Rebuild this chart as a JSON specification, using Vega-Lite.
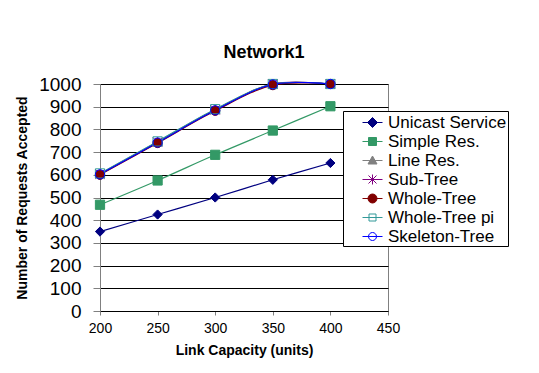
{
  "$schema": "https://vega.github.io/schema/vega-lite/v6.json",
  "autosize": "none",
  "width": 288,
  "height": 227,
  "padding": {"left": 100, "top": 84, "right": 151, "bottom": 62},
  "background": "white",
  "title": {"text": "Network1", "font": "Liberation Sans", "fontSize": 18, "fontWeight": "bold", "color": "#000", "dx": 20, "offset": -1, "baseline": "alphabetic", "frame": "group"},
  "config": {
    "view": {"stroke": "#808080", "strokeWidth": 1},
    "axis": {"labelFont": "Liberation Sans", "titleFont": "Liberation Sans", "labelColor": "#000", "titleColor": "#000"},
    "legend": {"labelFont": "Liberation Sans"}
  },
  "data": {"values": [
    {"capacity": 200, "series": "Unicast Service", "requests": 350},
    {"capacity": 250, "series": "Unicast Service", "requests": 425},
    {"capacity": 300, "series": "Unicast Service", "requests": 500},
    {"capacity": 350, "series": "Unicast Service", "requests": 578},
    {"capacity": 400, "series": "Unicast Service", "requests": 652},
    {"capacity": 200, "series": "Simple Res.", "requests": 468},
    {"capacity": 250, "series": "Simple Res.", "requests": 575},
    {"capacity": 300, "series": "Simple Res.", "requests": 688},
    {"capacity": 350, "series": "Simple Res.", "requests": 795},
    {"capacity": 400, "series": "Simple Res.", "requests": 902},
    {"capacity": 200, "series": "Line Res.", "requests": 605},
    {"capacity": 250, "series": "Line Res.", "requests": 746},
    {"capacity": 300, "series": "Line Res.", "requests": 888},
    {"capacity": 350, "series": "Line Res.", "requests": 1000},
    {"capacity": 400, "series": "Line Res.", "requests": 1000},
    {"capacity": 200, "series": "Sub-Tree", "requests": 603},
    {"capacity": 250, "series": "Sub-Tree", "requests": 744},
    {"capacity": 300, "series": "Sub-Tree", "requests": 886},
    {"capacity": 350, "series": "Sub-Tree", "requests": 1000},
    {"capacity": 400, "series": "Sub-Tree", "requests": 1000},
    {"capacity": 200, "series": "Whole-Tree", "requests": 600},
    {"capacity": 250, "series": "Whole-Tree", "requests": 740},
    {"capacity": 300, "series": "Whole-Tree", "requests": 882},
    {"capacity": 350, "series": "Whole-Tree", "requests": 995},
    {"capacity": 400, "series": "Whole-Tree", "requests": 1000},
    {"capacity": 200, "series": "Whole-Tree pi", "requests": 606},
    {"capacity": 250, "series": "Whole-Tree pi", "requests": 747},
    {"capacity": 300, "series": "Whole-Tree pi", "requests": 889},
    {"capacity": 350, "series": "Whole-Tree pi", "requests": 1000},
    {"capacity": 400, "series": "Whole-Tree pi", "requests": 1000},
    {"capacity": 200, "series": "Skeleton-Tree", "requests": 602},
    {"capacity": 250, "series": "Skeleton-Tree", "requests": 742},
    {"capacity": 300, "series": "Skeleton-Tree", "requests": 884},
    {"capacity": 350, "series": "Skeleton-Tree", "requests": 998},
    {"capacity": 400, "series": "Skeleton-Tree", "requests": 1000}
  ]},
  "encoding": {
    "x": {"field": "capacity", "type": "quantitative", "scale": {"domain": [200, 450], "nice": false, "zero": false},
      "axis": {"values": [200, 250, 300, 350, 400, 450], "format": "d", "title": "Link Capacity (units)", "grid": false, "tickSize": 4, "tickColor": "#808080", "domainColor": "#000", "labelFontSize": 14, "labelPadding": 6, "labelFlush": false, "titleFontSize": 14, "titleFontWeight": "bold", "titlePadding": 8}},
    "y": {"field": "requests", "type": "quantitative", "scale": {"domain": [0, 1000], "nice": false},
      "axis": {"values": [0, 100, 200, 300, 400, 500, 600, 700, 800, 900, 1000], "format": "d", "title": "Number of Requests Accepted", "grid": true, "gridColor": "#000", "gridOpacity": 1, "gridWidth": 1, "domainColor": "#808080", "tickColor": "#808080", "tickSize": 7, "labelFontSize": 19, "labelPadding": 12, "titleFontSize": 14, "titleFontWeight": "bold", "titlePadding": 9}}
  },
  "layer": [
    {
      "mark": {"type": "line", "interpolate": "catmull-rom", "strokeWidth": 1.2},
      "encoding": {
        "color": {"field": "series", "type": "nominal", "legend": null,
          "scale": {"domain": ["Unicast Service", "Simple Res.", "Line Res.", "Sub-Tree", "Whole-Tree", "Whole-Tree pi", "Skeleton-Tree"],
            "range": ["#000080", "#339966", "#808080", "#800080", "#800000", "#339999", "#0000FF"]}}
      }
    },
    {
      "mark": {"type": "point", "filled": true, "size": 85, "strokeWidth": 1, "opacity": 1},
      "encoding": {
        "shape": {"field": "series", "type": "nominal", "legend": null,
          "scale": {"domain": ["Unicast Service", "Simple Res.", "Line Res.", "Sub-Tree", "Whole-Tree", "Whole-Tree pi", "Skeleton-Tree"],
            "range": ["diamond", "square", "triangle-up", "M-1,-1L1,1M-1,1L1,-1M0,-1V1", "circle", "square", "circle"]}},
        "fill": {"field": "series", "type": "nominal", "legend": null,
          "scale": {"domain": ["Unicast Service", "Simple Res.", "Line Res.", "Sub-Tree", "Whole-Tree", "Whole-Tree pi", "Skeleton-Tree"],
            "range": ["#000080", "#339966", "#808080", "transparent", "#800000", "transparent", "transparent"]}},
        "stroke": {"field": "series", "type": "nominal", "legend": null,
          "scale": {"domain": ["Unicast Service", "Simple Res.", "Line Res.", "Sub-Tree", "Whole-Tree", "Whole-Tree pi", "Skeleton-Tree"],
            "range": ["#000080", "#339966", "#808080", "#800080", "#800000", "#339999", "#0000FF"]}}
      }
    },
    {
      "mark": {"type": "point", "filled": true, "size": 400, "strokeWidth": 1, "opacity": 0},
      "encoding": {
        "shape": {"field": "series", "type": "nominal",
          "scale": {"domain": ["Unicast Service", "Simple Res.", "Line Res.", "Sub-Tree", "Whole-Tree", "Whole-Tree pi", "Skeleton-Tree"],
            "range": [
              "M-1,0H1M0,-0.5L0.5,0L0,0.5L-0.5,0Z",
              "M-1,0H1M-0.4,-0.4H0.4V0.4H-0.4Z",
              "M-1,0H1M0,-0.45L0.45,0.35H-0.45Z",
              "M-1,0H1M-0.4,-0.4L0.4,0.4M-0.4,0.4L0.4,-0.4M0,-0.5V0.5",
              "M-1,0H1M0.45,0A0.45,0.45,0,1,1,-0.45,0A0.45,0.45,0,1,1,0.45,0Z",
              "M-1,0H1M-0.35,-0.35H0.35V0.35H-0.35Z",
              "M-1,0H1M0.4,0A0.4,0.4,0,1,1,-0.4,0A0.4,0.4,0,1,1,0.4,0Z"
            ]},
          "legend": {"orient": "none", "legendX": 243, "legendY": 27, "title": null, "strokeColor": "#000", "fillColor": "white", "padding": 1, "symbolOffset": 18, "labelOffset": 5, "labelFontSize": 17, "labelColor": "#000", "rowPadding": 0, "symbolSize": 400, "symbolStrokeWidth": 1, "symbolOpacity": 1, "labelExpr": "datum.label + '   '"}},
        "fill": {"field": "series", "type": "nominal",
          "scale": {"domain": ["Unicast Service", "Simple Res.", "Line Res.", "Sub-Tree", "Whole-Tree", "Whole-Tree pi", "Skeleton-Tree"],
            "range": ["#000080", "#339966", "#808080", "transparent", "#800000", "transparent", "transparent"]},
          "legend": {"orient": "none", "legendX": 243, "legendY": 27, "title": null, "strokeColor": "#000", "fillColor": "white", "padding": 1, "symbolOffset": 18, "labelOffset": 5, "labelFontSize": 17, "labelColor": "#000", "rowPadding": 0, "symbolSize": 400, "symbolStrokeWidth": 1, "symbolOpacity": 1, "labelExpr": "datum.label + '   '"}},
        "stroke": {"field": "series", "type": "nominal",
          "scale": {"domain": ["Unicast Service", "Simple Res.", "Line Res.", "Sub-Tree", "Whole-Tree", "Whole-Tree pi", "Skeleton-Tree"],
            "range": ["#000080", "#339966", "#808080", "#800080", "#800000", "#339999", "#0000FF"]},
          "legend": {"orient": "none", "legendX": 243, "legendY": 27, "title": null, "strokeColor": "#000", "fillColor": "white", "padding": 1, "symbolOffset": 18, "labelOffset": 5, "labelFontSize": 17, "labelColor": "#000", "rowPadding": 0, "symbolSize": 400, "symbolStrokeWidth": 1, "symbolOpacity": 1, "labelExpr": "datum.label + '   '"}}
      }
    }
  ],
  "resolve": {
    "scale": {"shape": "independent", "fill": "independent", "stroke": "independent", "color": "independent"},
    "legend": {"shape": "independent", "fill": "independent", "stroke": "independent", "color": "independent"}
  }
}
